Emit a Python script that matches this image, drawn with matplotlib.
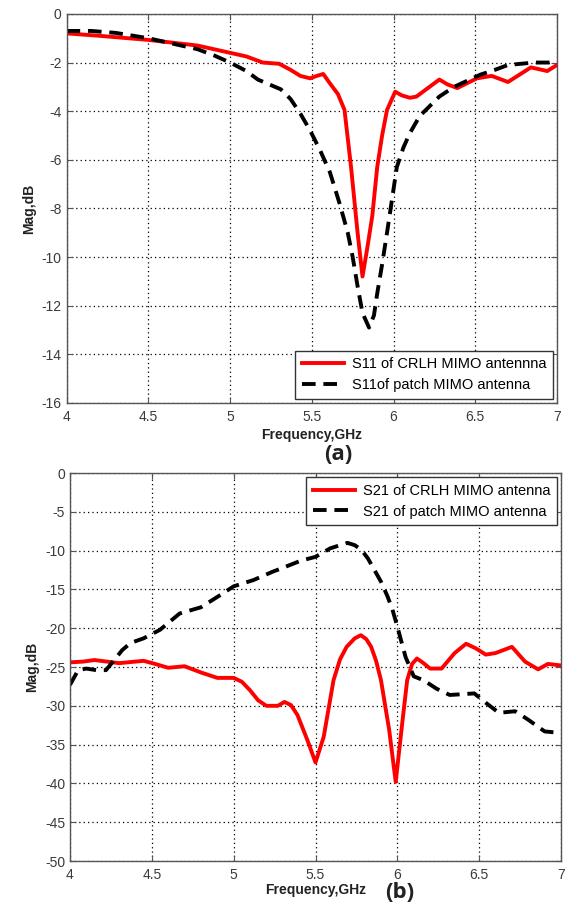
import matplotlib
matplotlib.use("Agg")
import matplotlib.pyplot as plt

plt.rcParams['font.family'] = ['Liberation Sans', 'DejaVu Sans']
plt.rcParams['axes.unicode_minus'] = False

# (a) S11
f_s11_crlh = [4.0, 4.2, 4.5, 4.8, 5.0, 5.1, 5.2, 5.3, 5.37, 5.43, 5.49, 5.53, 5.57, 5.61, 5.66, 5.70,
              5.74, 5.78, 5.81, 5.84, 5.87, 5.90, 5.93, 5.96, 6.01, 6.05, 6.10, 6.14, 6.20, 6.28,
              6.33, 6.39, 6.45, 6.51, 6.60, 6.70, 6.77, 6.84, 6.94, 7.0]
s11_crlh = [-0.8, -0.9, -1.07, -1.3, -1.6, -1.75, -2.0, -2.05, -2.3, -2.55, -2.65, -2.55, -2.47, -2.85,
            -3.3, -3.95, -6.3, -9.0, -10.8, -9.6, -8.3, -6.3, -5.0, -3.95, -3.2, -3.35, -3.45,
            -3.4, -3.1, -2.7, -2.9, -3.05, -2.85, -2.65, -2.55, -2.8, -2.5, -2.2, -2.35, -2.1]

f_s11_patch = [4.0, 4.15, 4.3, 4.5, 4.7, 4.8, 4.9, 5.0, 5.1, 5.17, 5.24, 5.31, 5.37, 5.43, 5.49,
               5.55, 5.61, 5.67, 5.72, 5.75, 5.78, 5.81, 5.85, 5.88, 5.90, 5.93, 5.96, 6.02,
               6.06, 6.10, 6.16, 6.22, 6.28, 6.37, 6.45, 6.53, 6.62, 6.70, 6.86, 7.0]
s11_patch = [-0.7, -0.7, -0.78, -1.0, -1.3, -1.45, -1.7, -2.0, -2.35, -2.7, -2.9, -3.1, -3.5, -4.1,
             -4.8, -5.6, -6.5, -7.8, -9.0, -10.0, -11.2, -12.3, -12.9, -12.4, -11.5, -10.3,
             -9.0, -6.3, -5.5, -4.9, -4.2, -3.8, -3.4, -3.0, -2.75, -2.5, -2.3, -2.1, -2.0, -2.0]

# (b) S21
f_s21_crlh = [4.0, 4.08, 4.15, 4.3, 4.45, 4.52, 4.6, 4.7, 4.8, 4.9, 5.0, 5.05, 5.1, 5.15, 5.2, 5.27,
              5.31, 5.35, 5.39, 5.45, 5.50, 5.55, 5.61, 5.65, 5.69, 5.74, 5.777, 5.81, 5.84,
              5.87, 5.90, 5.95, 5.99, 6.03, 6.06, 6.09, 6.12, 6.16, 6.20, 6.27, 6.35, 6.42,
              6.48, 6.54, 6.60, 6.70, 6.78, 6.86, 6.92, 7.0]
s21_crlh = [-24.4, -24.3, -24.1, -24.5, -24.2, -24.6, -25.1, -24.9, -25.7, -26.4, -26.4, -26.9,
            -28.0, -29.3, -30.0, -30.0, -29.5, -29.9, -31.2, -34.4, -37.3, -34.0, -26.7, -24.0,
            -22.4, -21.3, -20.9, -21.4, -22.4, -24.2, -26.7, -33.1, -39.8, -32.2, -26.7, -24.6,
            -23.9, -24.5, -25.2, -25.2, -23.2, -22.0, -22.6, -23.4, -23.2, -22.4, -24.3, -25.3,
            -24.6, -24.8]

f_s21_patch = [4.0, 4.05, 4.1, 4.16, 4.22, 4.27, 4.32, 4.37, 4.45, 4.55, 4.67, 4.80, 4.92, 5.0,
               5.12, 5.24, 5.29, 5.41, 5.50, 5.59, 5.65, 5.695, 5.74, 5.78, 5.82, 5.86, 5.90,
               5.94, 5.97, 6.0, 6.05, 6.1, 6.16, 6.24, 6.32, 6.40, 6.47, 6.54, 6.62, 6.72, 6.80,
               6.90, 7.0]
s21_patch = [-27.3, -25.4, -25.2, -25.4, -25.4, -24.1, -22.8, -21.9, -21.3, -20.2, -18.1, -17.3,
             -15.7, -14.6, -13.8, -12.7, -12.3, -11.3, -10.8, -9.7, -9.3, -9.0, -9.3, -9.9,
             -11.0, -12.5, -14.0, -15.9, -17.6, -19.8, -23.7, -26.2, -26.7, -27.8, -28.6, -28.5,
             -28.4, -29.6, -30.9, -30.7, -31.8, -33.3, -33.5]

xticks = [4, 4.5, 5, 5.5, 6, 6.5, 7]
xticklabels = ['4', '4.5', '5', '5.5', '6', '6.5', '7']
yticks_a = list(range(-16, 1, 2))
yticks_b = list(range(-50, 1, 5))

fig = plt.figure(figsize=(5.69, 9.09), dpi=100)
ax1 = fig.add_axes([0.117, 0.5567, 0.862, 0.428])
ax2 = fig.add_axes([0.123, 0.0528, 0.863, 0.4268])


def style(ax, yticks, pad):
    ax.set_xlim(4, 7)
    ax.set_xticks(xticks)
    ax.set_xticklabels(xticklabels)
    ax.set_yticks(yticks)
    ax.set_ylim(yticks[0], yticks[-1])
    ax.grid(True, linestyle=(0, (1, 2.5)), color='black', linewidth=0.9)
    ax.tick_params(direction='in', top=True, right=True, labelsize=10,
                   labelcolor='#3a3a3a', length=4, color='#555555')
    ax.tick_params(axis='x', pad=5)
    for s in ax.spines.values():
        s.set_color('#555555')
        s.set_linewidth(1.0)
    ax.set_xlabel('Frequency,GHz', fontweight='bold', fontsize=10, labelpad=pad,
                  color='#222222')
    ax.set_ylabel('Mag,dB', fontweight='bold', fontsize=10, color='#222222')


def legend(ax, loc):
    leg = ax.legend(loc=loc, fontsize=10.5, fancybox=False, framealpha=1,
                    edgecolor='#333333', borderaxespad=0.3, handlelength=2.9,
                    borderpad=0.45, labelspacing=0.45, handletextpad=0.5)
    leg.get_frame().set_linewidth(1.0)


ax1.plot(f_s11_crlh, s11_crlh, color='red', linewidth=2.8, label='S11 of CRLH MIMO antennna')
ax1.plot(f_s11_patch, s11_patch, color='black', linewidth=2.8, linestyle=(0, (3.5, 2)),
         label='S11of patch MIMO antenna')
style(ax1, yticks_a, 3)
legend(ax1, 'lower right')

ax2.plot(f_s21_crlh, s21_crlh, color='red', linewidth=2.8, label='S21 of CRLH MIMO antenna')
ax2.plot(f_s21_patch, s21_patch, color='black', linewidth=2.8, linestyle=(0, (3.5, 2)),
         label='S21 of patch MIMO antenna')
style(ax2, yticks_b, 1)
legend(ax2, 'upper right')

fig.text(338 / 569, 1 - 454 / 909, '(a)', fontsize=16, fontweight='bold',
         ha='center', va='center', family=['Open Sans', 'DejaVu Sans'], color='#222222')
fig.text(400 / 569, 1 - 893 / 909, '(b)', fontsize=16, fontweight='bold',
         ha='center', va='center', family=['Open Sans', 'DejaVu Sans'], color='#222222')

fig.savefig('out.png', dpi=100)
plt.close()
